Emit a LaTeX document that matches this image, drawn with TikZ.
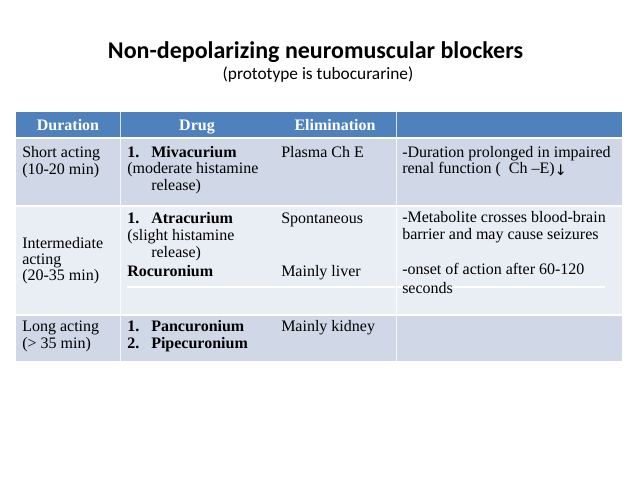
\documentclass[tikz,border=0pt]{standalone}
\usepackage{fontspec}
\setmainfont{Liberation Serif}
\newfontfamily\titlefont{Carlito}
\newfontfamily\symfont{DejaVu Sans}
\definecolor{hdr}{HTML}{4F81BD}
\definecolor{rowA}{HTML}{D0D8E8}
\definecolor{rowB}{HTML}{E9EDF4}
\begin{document}
\begin{tikzpicture}[x=0.75pt,y=-0.75pt,
  cell/.style={inner sep=0pt, anchor=base west, font=\fontsize{12}{14}\selectfont},
  bcell/.style={cell, font=\fontsize{12}{14}\selectfont\bfseries},
  head/.style={inner sep=0pt, anchor=base, text=white, font=\fontsize{12}{14}\selectfont\bfseries},
  sep/.style={white, line width=0.9pt},
  vsep/.style={white, line width=0.5pt, opacity=0.8}]
\useasboundingbox (0,0) rectangle (638,479);
\fill[white] (0,0) rectangle (638,479);
% title
\node[inner sep=0pt, anchor=base, font=\titlefont\fontsize{18}{20}\selectfont\bfseries] (title) at (315.5,58) {Non-depolarizing neuromuscular blockers};
\node[inner sep=0pt, anchor=base, font=\titlefont\fontsize{13}{15}\selectfont] (subtitle) at (318,79) {(prototype is tubocurarine)};
% table fills
\fill[hdr] (16,112) rectangle (622,138);
\fill[rowA] (16,138) rectangle (622,206);
\fill[rowB] (16,206) rectangle (622,315);
\fill[rowA] (16,315) rectangle (622,361);
% separators
\draw[vsep] (120,112) -- (120,361);
\draw[vsep] (396,112) -- (396,361);
\draw[sep] (16,138) -- (622,138);
\draw[sep] (16,206) -- (622,206);
\draw[sep] (16,315) -- (622,315);
\draw[white, line width=0.9pt] (127,287) -- (605,287);
% header
\node[head] (hdur) at (68,130) {Duration};
\node[head] (hdrug) at (197,130) {Drug};
\node[head] (helim) at (335,130) {Elimination};
% row 1
\node[cell] (r1a1) at (22,157) {Short acting};
\node[cell] (r1a2) at (22,174) {(10-20 min)};
\node[bcell] (r1n1) at (127,157) {1.};
\node[bcell] (r1b1) at (151,157) {Mivacurium};
\node[cell] (r1b2) at (127,173) {(moderate histamine};
\node[cell] (r1b3) at (151,190) {release)};
\node[cell] (r1c1) at (281,157) {Plasma Ch E};
\node[cell] (r1d1) at (402,157) {-Duration prolonged in impaired};
\node[cell] (r1d2) at (402,173) {renal function (~ Ch –E)\raisebox{-2pt}{\symfont\fontsize{11}{12}\selectfont ↓}};
% row 2
\node[cell] (r2a1) at (22,248) {Intermediate};
\node[cell] (r2a2) at (22,264) {acting};
\node[cell] (r2a3) at (22,280) {(20-35 min)};
\node[bcell] (r2n1) at (127,223) {1.};
\node[bcell] (r2b1) at (151,223) {Atracurium};
\node[cell] (r2b2) at (127,240) {(slight histamine};
\node[cell] (r2b3) at (151,257) {release)};
\node[bcell] (r2b4) at (127,276) {Rocuronium};
\node[cell] (r2c1) at (281,223) {Spontaneous};
\node[cell] (r2c2) at (281,276) {Mainly liver};
\node[cell] (r2d1) at (402,222) {-Metabolite crosses blood-brain};
\node[cell] (r2d2) at (402,239) {barrier and may cause seizures};
\node[cell] (r2d3) at (402,274) {-onset of action after 60-120};
\node[cell] (r2d4) at (402,293) {seconds};
% row 3
\node[cell] (r3a1) at (22,331) {Long acting};
\node[cell] (r3a2) at (22,348) {(> 35 min)};
\node[bcell] (r3n1) at (127,331) {1.};
\node[bcell] (r3b1) at (151,331) {Pancuronium};
\node[bcell] (r3n2) at (127,348) {2.};
\node[bcell] (r3b2) at (151,348) {Pipecuronium};
\node[cell] (r3c1) at (281,331) {Mainly kidney};
\end{tikzpicture}
\end{document}
